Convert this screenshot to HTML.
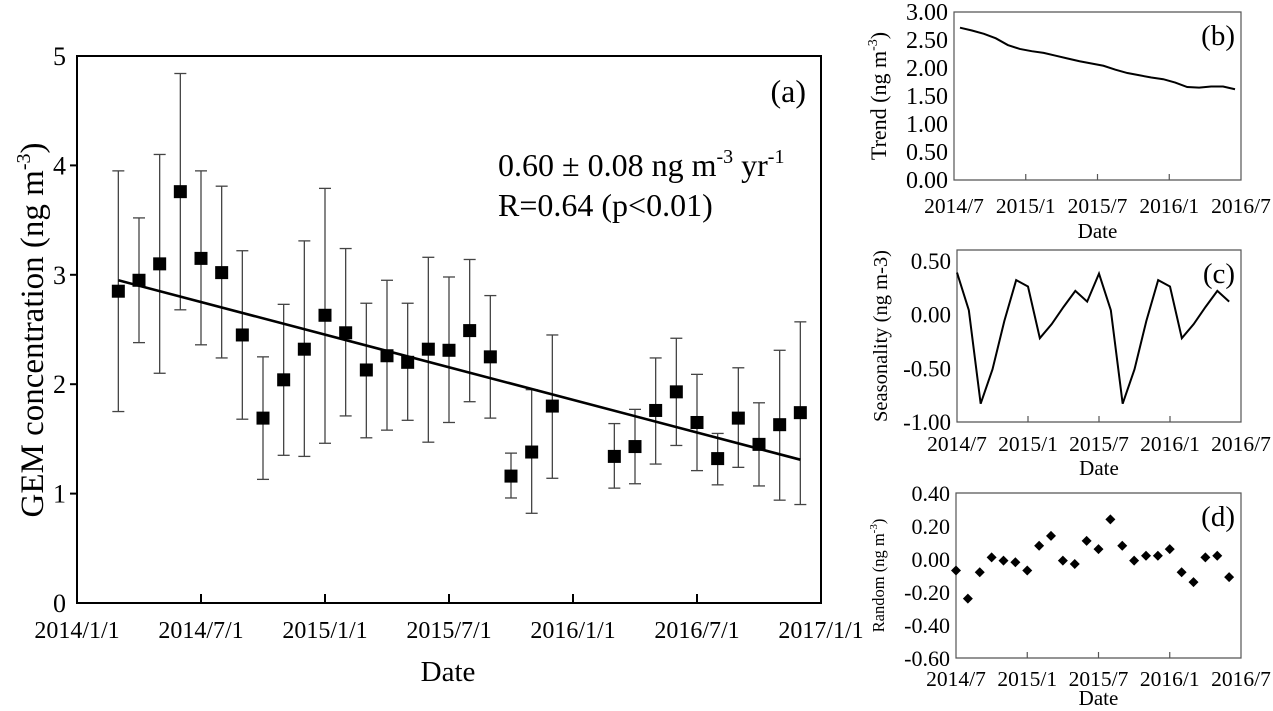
<!DOCTYPE html>
<html><head><meta charset="utf-8"><style>
html,body{margin:0;padding:0;background:#fff;}
svg{display:block;font-family:"Liberation Serif",serif;}
</style></head><body>
<svg id="fig" width="1273" height="711" viewBox="0 0 1273 711" xmlns="http://www.w3.org/2000/svg"></svg>
<script>
// ---- Panel (a) data: month index since 2014/1/1 ----
const aMonths = [2,3,4,5,6,7,8,9,10,11,12,13,14,15,16,17,18,19,20,21,22,23,26,27,28,29,30,31,32,33,34,35];
const aValues = [2.85,2.95,3.10,3.76,3.15,3.02,2.45,1.69,2.04,2.32,2.63,2.47,2.13,2.26,2.20,2.32,2.31,2.49,2.25,1.16,1.38,1.80,1.34,1.43,1.76,1.93,1.65,1.32,1.69,1.45,1.63,1.74];
const aHigh = [3.95,3.52,4.10,4.84,3.95,3.81,3.22,2.25,2.73,3.31,3.79,3.24,2.74,2.95,2.74,3.16,2.98,3.14,2.81,1.37,1.95,2.45,1.64,1.77,2.24,2.42,2.09,1.55,2.15,1.83,2.31,2.57];
const aLow = [1.75,2.38,2.10,2.68,2.36,2.24,1.68,1.13,1.35,1.34,1.46,1.71,1.51,1.58,1.67,1.47,1.65,1.84,1.69,0.96,0.82,1.14,1.05,1.09,1.27,1.44,1.21,1.08,1.24,1.07,0.94,0.90];
const aFitStart = [2, 2.95];
const aFitEnd = [35, 1.31];
const aXTickLabels = ["2014/1/1","2014/7/1","2015/1/1","2015/7/1","2016/1/1","2016/7/1","2017/1/1"];
const aYTicks = [0,1,2,3,4,5];
// ---- Panels (b)(c)(d): monthly since 2014/7 ----
const subXTickLabels = ["2014/7","2015/1","2015/7","2016/1","2016/7"];
const bTrend = [2.72,2.67,2.61,2.53,2.41,2.34,2.30,2.27,2.22,2.17,2.12,2.08,2.04,1.97,1.91,1.87,1.83,1.80,1.74,1.66,1.65,1.67,1.67,1.62];
const bYTicks = [0,0.5,1,1.5,2,2.5,3];
const cSeason = [0.39,0.04,-0.83,-0.51,-0.06,0.32,0.26,-0.22,-0.09,0.07,0.22,0.12,0.38,0.04,-0.83,-0.51,-0.06,0.32,0.26,-0.22,-0.09,0.07,0.22,0.12];
const cYTicks = [0.5,0,-0.5,-1];
const dRandom = [-0.07,-0.24,-0.08,0.01,-0.01,-0.02,-0.07,0.08,0.14,-0.01,-0.03,0.11,0.06,0.24,0.08,-0.01,0.02,0.02,0.06,-0.08,-0.14,0.01,0.02,-0.11];
const dYTicks = [0.4,0.2,0,-0.2,-0.4,-0.6];

const NS="http://www.w3.org/2000/svg";
const svg=document.getElementById('fig');
function mk(tag,attrs,parent,text){const e=document.createElementNS(NS,tag);for(const k in attrs)e.setAttribute(k,attrs[k]);if(text!==undefined)e.textContent=text;(parent||svg).appendChild(e);return e;}

// ===== Panel (a) =====
const A={l:77,r:821,t:56,b:603};
const ax=m=>A.l+(m/36)*(A.r-A.l);
const ay=v=>A.b-(v/5)*(A.b-A.t);
const ga=mk('g',{});


aMonths.forEach((m,i)=>{
  const x=ax(m);
  const eb=mk('g',{stroke:'#444','stroke-width':1.3},ga);
  
  
  mk('line',{x1:x,x2:x,y1:ay(aHigh[i]),y2:ay(aLow[i])},eb);
  mk('line',{x1:x-6,x2:x+6,y1:ay(aHigh[i]),y2:ay(aHigh[i])},eb);
  mk('line',{x1:x-6,x2:x+6,y1:ay(aLow[i]),y2:ay(aLow[i])},eb);
});
const fit=mk('line',{x1:ax(aFitStart[0]),y1:ay(aFitStart[1]),x2:ax(aFitEnd[0]),y2:ay(aFitEnd[1]),stroke:'#000','stroke-width':2.6},ga);


aMonths.forEach((m,i)=>{
  const r=mk('rect',{x:ax(m)-6.5,y:ay(aValues[i])-6.5,width:13,height:13,fill:'#000'},ga);
  
  
});
const fa=mk('path',{d:`M${A.l} ${A.t}H${A.r}V${A.b}H${A.l}Z`,fill:'none',stroke:'#000','stroke-width':2},ga);


aXTickLabels.forEach((lab,i)=>{
  const x=ax(i*6);
  if(i>0&&i<6) mk('line',{x1:x,x2:x,y1:A.b,y2:A.b-9,stroke:'#000','stroke-width':2},ga);
  const t=mk('text',{x:x,y:A.b+35,'text-anchor':'middle','font-size':24},ga,lab);
  
  
});
aYTicks.forEach(v=>{
  const y=ay(v);
  if(v>0&&v<5) mk('line',{x1:A.l-7,x2:A.l,y1:y,y2:y,stroke:'#000','stroke-width':2},ga);
  const t=mk('text',{x:A.l-11,y:y+9,'text-anchor':'end','font-size':26},ga,String(v));
  
  
});
let t;
t=mk('text',{x:448,y:681,'text-anchor':'middle','font-size':29},ga,'Date');

t=mk('text',{transform:'translate(43,330) rotate(-90)','text-anchor':'middle','font-size':33},ga);

t.innerHTML='GEM concentration (ng m<tspan dy="-13" font-size="20">-3</tspan><tspan dy="13">)</tspan>';
t=mk('text',{x:806,y:102,'text-anchor':'end','font-size':32},ga,'(a)');

t=mk('text',{x:498,y:176,'font-size':32},ga);

t.innerHTML='0.60 ± 0.08 ng m<tspan dy="-13" font-size="20">-3</tspan><tspan dy="13"> yr</tspan><tspan dy="-13" font-size="20">-1</tspan>';
t=mk('text',{x:498,y:216,'font-size':32},ga,'R=0.64 (p<0.01)');


// ===== Sub panels =====
function subPanel(name,box,yDom,yTicks,labelText,yTitleHTML,yTitleX,xLabY,dateY,yTickSize){
  const g=mk('g',{});
  
  
  const sx=m=>box.l+(m/24)*(box.r-box.l);
  const sy=v=>box.b-((v-yDom[0])/(yDom[1]-yDom[0]))*(box.b-box.t);
  const f=mk('path',{d:`M${box.l} ${box.t}H${box.r}V${box.b}H${box.l}Z`,fill:'none',stroke:'#555','stroke-width':1.2},g);
  
  
  subXTickLabels.forEach((lab,i)=>{
    const x=sx(i*6);
    if(i>0&&i<4) mk('line',{x1:x,x2:x,y1:box.b,y2:box.b-6,stroke:'#555','stroke-width':1.2},g);
    const tt=mk('text',{x:x,y:xLabY,'text-anchor':'middle','font-size':21.5},g,lab);
    
    
  });
  yTicks.forEach(v=>{
    const tt=mk('text',{x:box.l-6,y:sy(v)+8,'text-anchor':'end','font-size':yTickSize},g,v.toFixed(2));
    
    
  });
  let tt=mk('text',{x:(box.l+box.r)/2,y:dateY,'text-anchor':'middle','font-size':21},g,'Date');
  
  tt=mk('text',{transform:`translate(${yTitleX},${(box.t+box.b)/2}) rotate(-90)`,'text-anchor':'middle','font-size':yTitleHTML.size},g);
  
  tt.innerHTML=yTitleHTML.html;
  tt=mk('text',{x:box.r-6,y:box.t+33,'text-anchor':'end','font-size':29},g,labelText);
  
  return {g,sx,sy};
}
const B=subPanel('panel-b',{l:954,r:1241,t:12,b:180},[0,3],bYTicks,'(b)',{html:'Trend (ng m<tspan dy="-9" font-size="14">-3</tspan><tspan dy="9">)</tspan>',size:22},886,213,238,24);
const bPts=bTrend.map((v,i)=>`${B.sx(i+0.5)},${B.sy(v)}`).join(' ');
const bl=mk('polyline',{points:bPts,fill:'none',stroke:'#000','stroke-width':2},B.g);


const C=subPanel('panel-c',{l:957,r:1241,t:250,b:422},[-1,0.6],cYTicks,'(c)',{html:'Seasonality (ng m-3)',size:20.5},887,451,475,23);
const cPts=cSeason.map((v,i)=>`${C.sx(i)},${C.sy(v)}`).join(' ');
const cl=mk('polyline',{points:cPts,fill:'none',stroke:'#000','stroke-width':2},C.g);


const D=subPanel('panel-d',{l:956,r:1241,t:493,b:658},[-0.6,0.4],dYTicks,'(d)',{html:'Random (ng m<tspan dy="-7" font-size="11">-3</tspan><tspan dy="7">)</tspan>',size:16.5},884,686,705,22);
dRandom.forEach((v,i)=>{
  const x=D.sx(i),y=D.sy(v);
  const p=mk('path',{d:`M${x} ${y-5}L${x+5} ${y}L${x} ${y+5}L${x-5} ${y}Z`,fill:'#000'},D.g);
  
  
});
</script>
</body></html>
